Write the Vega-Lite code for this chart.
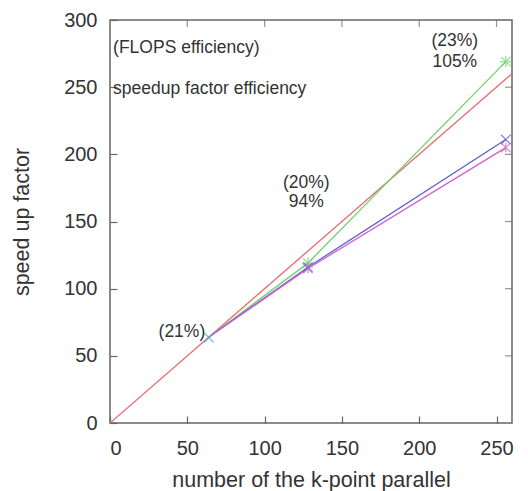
{
  "$schema": "https://vega.github.io/schema/vega-lite/v6.json",
  "width": 402,
  "height": 403,
  "autosize": "none",
  "padding": {"left": 110, "top": 20, "right": 16, "bottom": 68},
  "background": "white",
  "config": {
    "font": "Liberation Sans",
    "view": {"stroke": "#666", "strokeWidth": 1.5},
    "axis": {"grid": false, "domain": false, "tickColor": "#666", "tickWidth": 1.2, "labelColor": "#333", "titleColor": "#333", "labelFontSize": 20, "titleFontSize": 21.5, "titleFontWeight": "normal"}
  },
  "datasets": {
    "lines": [
      {"series": "ideal", "k": 0, "speedup": 0},
      {"series": "ideal", "k": 260, "speedup": 260},
      {"series": "green", "k": 64, "speedup": 64},
      {"series": "green", "k": 128, "speedup": 119},
      {"series": "green", "k": 256, "speedup": 269},
      {"series": "blue", "k": 64, "speedup": 64},
      {"series": "blue", "k": 128, "speedup": 116},
      {"series": "blue", "k": 256, "speedup": 211},
      {"series": "magenta", "k": 64, "speedup": 64},
      {"series": "magenta", "k": 128, "speedup": 115},
      {"series": "magenta", "k": 256, "speedup": 205},
      {"series": "cyan", "k": 64, "speedup": 63.5}
    ],
    "leftnotes": [
      {"label": "(FLOPS efficiency)", "k": 2, "speedup": 279},
      {"label": "speedup factor efficiency", "k": 2, "speedup": 249}
    ],
    "centernotes": [
      {"label": "(23%)", "k": 223, "speedup": 284},
      {"label": "105%", "k": 223, "speedup": 269},
      {"label": "(20%)", "k": 127, "speedup": 179},
      {"label": "94%", "k": 127, "speedup": 164.5},
      {"label": "(21%)", "k": 46.5, "speedup": 68}
    ],
    "topticks": [
      {"k": 50, "speedup": 300}, {"k": 100, "speedup": 300}, {"k": 150, "speedup": 300}, {"k": 200, "speedup": 300}, {"k": 250, "speedup": 300}
    ],
    "rightticks": [
      {"k": 260, "speedup": 50}, {"k": 260, "speedup": 100}, {"k": 260, "speedup": 150}, {"k": 260, "speedup": 200}, {"k": 260, "speedup": 250}
    ]
  },
  "layer": [
    {
      "data": {"name": "lines"},
      "mark": {"type": "line", "strokeWidth": 1.3, "clip": true},
      "encoding": {
        "x": {"field": "k", "type": "quantitative", "scale": {"domain": [0, 260], "nice": false}, "axis": {"values": [0, 50, 100, 150, 200, 250], "tickSize": -7, "labelPadding": 22, "title": "number of the k-point parallel", "titleY": 57, "titleBaseline": "middle"}},
        "y": {"field": "speedup", "type": "quantitative", "scale": {"domain": [0, 300], "nice": false}, "axis": {"values": [0, 50, 100, 150, 200, 250, 300], "tickSize": -7, "labelPadding": 20, "title": "speed up factor", "titleX": -88, "titleBaseline": "middle"}},
        "color": {"field": "series", "type": "nominal", "scale": {"domain": ["ideal", "green", "blue", "magenta", "cyan"], "range": ["#e86a70", "#6fd26f", "#5c5cd0", "#d060d0", "#40b0b8"]}, "legend": null},
        "detail": {"field": "series"}
      }
    },
    {
      "data": {"name": "lines"},
      "transform": [{"filter": "datum.series != 'ideal' && (datum.k > 64 || datum.series == 'cyan')"}],
      "mark": {"type": "point", "filled": false, "size": 90, "strokeWidth": 1.3, "clip": false},
      "encoding": {
        "x": {"field": "k", "type": "quantitative"},
        "y": {"field": "speedup", "type": "quantitative"},
        "color": {"field": "series", "type": "nominal", "legend": null},
        "shape": {"field": "series", "type": "nominal", "scale": {"domain": ["green", "blue", "magenta", "cyan"], "range": ["M-1,-1L1,1M-1,1L1,-1M0,-1.2L0,1.2M-1.2,0L1.2,0", "M-1,-1L1,1M-1,1L1,-1", "M-1,-1L1,1M-1,1L1,-1M0,-1L0,1", "M-1,-1L1,1M-1,1L1,-1"]}, "legend": null}
      }
    },
    {
      "data": {"name": "topticks"},
      "mark": {"type": "tick", "orient": "vertical", "size": 14, "thickness": 1.2, "color": "#666", "clip": true},
      "encoding": {
        "x": {"field": "k", "type": "quantitative"},
        "y": {"field": "speedup", "type": "quantitative"}
      }
    },
    {
      "data": {"name": "rightticks"},
      "mark": {"type": "tick", "orient": "horizontal", "size": 14, "thickness": 1.2, "color": "#666", "clip": true},
      "encoding": {
        "x": {"field": "k", "type": "quantitative"},
        "y": {"field": "speedup", "type": "quantitative"}
      }
    },
    {
      "data": {"name": "leftnotes"},
      "mark": {"type": "text", "align": "left", "baseline": "middle", "fontSize": 17.5, "color": "#333"},
      "encoding": {
        "x": {"field": "k", "type": "quantitative"},
        "y": {"field": "speedup", "type": "quantitative"},
        "text": {"field": "label"}
      }
    },
    {
      "data": {"name": "centernotes"},
      "mark": {"type": "text", "align": "center", "baseline": "middle", "fontSize": 17.5, "color": "#333"},
      "encoding": {
        "x": {"field": "k", "type": "quantitative"},
        "y": {"field": "speedup", "type": "quantitative"},
        "text": {"field": "label"}
      }
    }
  ]
}
